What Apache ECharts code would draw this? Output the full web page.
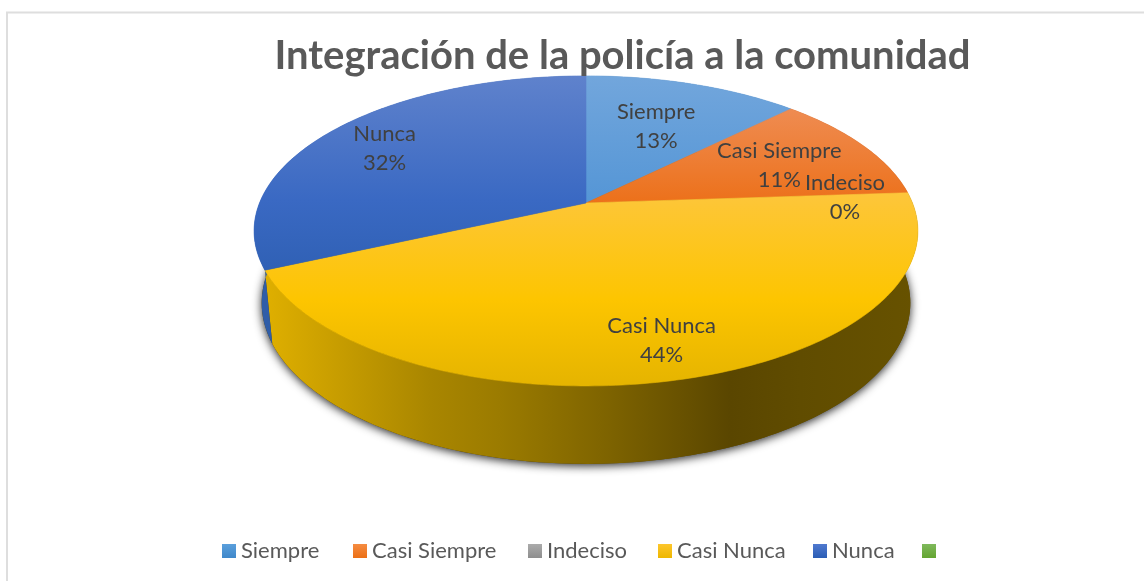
<!DOCTYPE html>
<html>
<head>
<meta charset="utf-8">
<style>html,body{margin:0;padding:0;background:#fff}#c{width:1144px;height:581px}</style>
<script src="https://cdn.jsdelivr.net/npm/echarts@6/dist/echarts.min.js"></script>
</head>
<body>
<div id="c"></div>
<script>
const chartTitle = 'Integración de la policía a la comunidad';
const categories = ['Siempre', 'Casi Siempre', 'Indeciso', 'Casi Nunca', 'Nunca', ' '];
const values = [12.5, 11.4, 0, 44.3, 31.8, 0];

const FONT = 'Lato, "Open Sans", sans-serif';
const topFace = { cx: 586, cy: 203, a: 326.5, b: 150, k: 0.18 };
const baseFace = { cx: 586, cy: 274, a: 319, b: 155.7, k: 0.18 };
const labelReach = { 'Siempre': 0.6, 'Casi Siempre': 0.68, 'Indeciso': 0.8, 'Casi Nunca': 0.81, 'Nunca': 0.79 };
const labelNudge = { 'Siempre': [2, -1], 'Casi Siempre': [1, 2.5], 'Indeciso': [1, 2.5], 'Casi Nunca': [0, 0], 'Nunca': [0, 5] };
const legendLeft = { 'Siempre': 217, 'Casi Siempre': 348, 'Indeciso': 523, 'Casi Nunca': 653, 'Nunca': 808, ' ': 917 };
const topStops = {
  'Siempre': [[76, '#72a6dc'], [200, '#5596d6']],
  'Casi Siempre': [[108, '#ef8c52'], [205, '#ec7019']],
  'Indeciso': [[190, '#a5a5a5'], [200, '#a5a5a5']],
  'Casi Nunca': [[190, '#fdc63c'], [300, '#fdc500'], [386, '#e5b400']],
  'Nunca': [[76, '#5f82cc'], [200, '#3a69c3'], [275, '#2f60b4']]
};
const legendStops = {
  'Siempre': ['#5a9fdc', '#3f88ca'], 'Casi Siempre': ['#f58c42', '#ec6f15'],
  'Indeciso': ['#ababab', '#8e8e8e'], 'Casi Nunca': ['#fdc62c', '#eeb700'],
  'Nunca': ['#5079cf', '#2a5db5'], ' ': ['#7fb95c', '#64a531']
};

const TOTAL = values.reduce((s, v) => s + v, 0);
const project = (f, r, h) => {
  const t = 2 * Math.PI * f, u = r * Math.sin(t), v = r * Math.cos(t), d = 1 + h.k * v;
  return [h.cx + h.a * u / d, h.cy - h.b * v / d];
};
const arc = (f0, f1, h) => {
  const n = Math.max(2, Math.ceil((f1 - f0) * 360)), out = [];
  for (let i = 0; i <= n; i++) out.push(project(f0 + (f1 - f0) * i / n, 1, h));
  return out;
};
const vGrad = stops => {
  const y0 = stops[0][0], y1 = stops[stops.length - 1][0];
  return new echarts.graphic.LinearGradient(0, y0, 0, y1,
    stops.map(s => ({ offset: (s[0] - y0) / (y1 - y0), color: s[1] })), true);
};
const wallX = (x0, x1, stops) => new echarts.graphic.LinearGradient(x0, 0, x1, 0,
  stops.map(s => ({ offset: (s[0] - x0) / (x1 - x0), color: s[1] })), true);
const yellowWall = wallX(262, 915, [[262, '#e0b000'], [430, '#a98600'], [500, '#9b7b00'], [600, '#806500'], [730, '#5a4600'], [800, '#604c00'], [915, '#675200']]);
const wallFill = { 'Casi Nunca': yellowWall, 'Nunca': '#2f5da8', 'Siempre': '#3f78ae', 'Casi Siempre': '#a8551f', 'Indeciso': '#777' };

let running = 0;
const starts = values.map(v => { const s = running; running += v; return s; });

function renderSlice(params, api) {
  const name = categories[params.seriesIndex - 1];
  const start = api.value(0) / TOTAL, val = api.value(1), end = start + val / TOTAL;
  if (name.trim() === '') return { type: 'group', children: [] };
  const children = [];
  if (val > 0) {
    const topArc = arc(start, end, topFace);
    const botArc = arc(start, end, baseFace).reverse();
    children.push({ type: 'polygon', z2: 1, shape: { points: topArc.concat(botArc) },
      style: { fill: wallFill[name] }, silent: true });
    const fill = vGrad(topStops[name]);
    children.push({ type: 'polygon', z2: 5, shape: { points: [[topFace.cx, topFace.cy]].concat(topArc) },
      style: { fill: fill, stroke: fill, lineWidth: 0.6 }, silent: true });
  }
  const p = project((start + end) / 2, labelReach[name], topFace);
  children.push({ type: 'text', z2: 10, x: p[0] + labelNudge[name][0], y: p[1] + labelNudge[name][1], silent: true,
    style: { text: name + '\n' + Math.round(val) + '%', align: 'center', verticalAlign: 'middle',
      fontFamily: FONT, fontSize: 22, lineHeight: 29, fill: '#404040' } });
  return { type: 'group', children };
}

function renderBase(params, api) {
  return { type: 'polygon', z2: 0, silent: true, shape: { points: arc(0, 1, baseFace) },
    style: { fill: '#5a4600', shadowBlur: 10, shadowColor: 'rgba(0,0,0,0.85)', shadowOffsetY: 2 } };
}

const series = [{ type: 'custom', name: 'base', coordinateSystem: 'none', silent: true, renderItem: renderBase, data: [[0]] }]
  .concat(categories.map((c, i) => ({
    type: 'custom', name: c, coordinateSystem: 'none', silent: true,
    renderItem: renderSlice, data: [[starts[i], values[i]]]
  })));

const chart = echarts.init(document.getElementById('c'), null, { renderer: 'canvas' });
chart.setOption({
  animation: false,
  backgroundColor: '#fff',
  title: { text: chartTitle, left: 617.5, top: 31, textAlign: 'center', z: 20,
    textStyle: { fontFamily: FONT, fontSize: 40, fontWeight: 'bold', color: '#595959' } },
  legend: categories.map(c => ({
    left: legendLeft[c], top: 535, itemWidth: 14, itemHeight: 14, icon: 'rect',
    selectedMode: false,
    textStyle: { fontFamily: FONT, fontSize: 22, color: '#595959', padding: [0, 0, 0, 0] },
    data: [{ name: c, itemStyle: {
        color: new echarts.graphic.LinearGradient(0, 0, 0, 1, [{ offset: 0, color: legendStops[c][0] }, { offset: 1, color: legendStops[c][1] }]) } }]
  })),
  graphic: [{ type: 'rect', silent: true, z: -1, shape: { x: 7, y: 12.5, width: 1300, height: 800 },
    style: { fill: 'none', stroke: '#dedede', lineWidth: 2 } }],
  series
});
</script>
</body>
</html>
